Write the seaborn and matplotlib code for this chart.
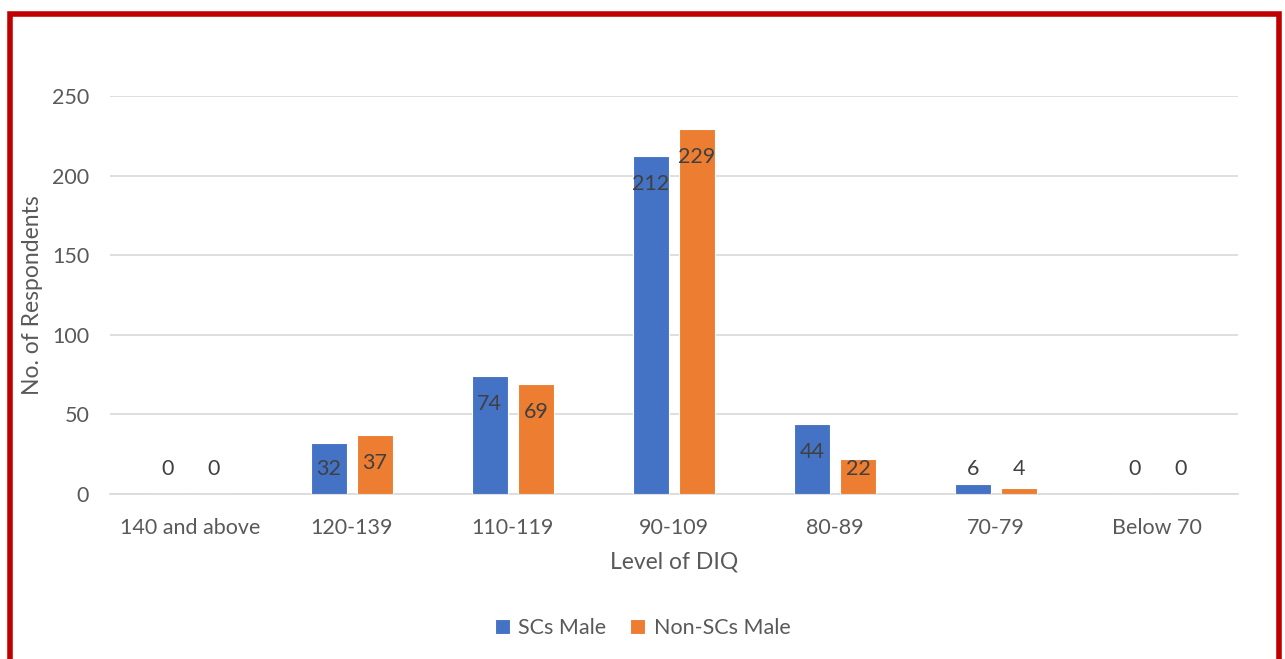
import matplotlib
matplotlib.use("Agg")
import matplotlib.pyplot as plt
import seaborn as sns
import pandas as pd
from matplotlib.patches import Rectangle

categories = ["140 and above", "120-139", "110-119", "90-109", "80-89", "70-79", "Below 70"]
sc_male = [0, 32, 74, 212, 44, 6, 0]
non_sc_male = [0, 37, 69, 229, 22, 4, 0]
series_names = ["SCs Male", "Non-SCs Male"]
colors = ["#4472C4", "#ED7D31"]

df = pd.DataFrame({
    "Level": categories * 2,
    "Count": sc_male + non_sc_male,
    "Series": [series_names[0]] * len(categories) + [series_names[1]] * len(categories),
})

sns.set_theme(style="white")
plt.rcParams["font.family"] = ["Lato", "DejaVu Sans"]

FS = 15.5
fig = plt.figure(figsize=(12.85, 6.59), dpi=100)
ax = fig.add_axes([110 / 1285, 1 - 494 / 659, (1238 - 110) / 1285, (494 - 96) / 659])

sns.barplot(data=df, x="Level", y="Count", hue="Series", order=categories,
            hue_order=series_names, palette=colors, saturation=1, width=0.572, gap=0.22,
            edgecolor="white", linewidth=0.8, ax=ax, legend=True, zorder=3)

ax.set_ylim(0, 250)
ax.set_xlim(-0.5, len(categories) - 0.5)
ax.set_yticks([0, 50, 100, 150, 200, 250])
ax.yaxis.grid(True, color="#d9d9d9", linewidth=1.2, zorder=0)
for s in ["top", "right", "left"]:
    ax.spines[s].set_visible(False)
ax.spines["bottom"].set_color("#d9d9d9")
ax.spines["bottom"].set_linewidth(1.2)
ax.tick_params(axis="both", length=0, labelsize=FS, labelcolor="#595959")
ax.tick_params(axis="y", pad=15)
ax.tick_params(axis="x", pad=17)

ax.set_xlabel("Level of DIQ", fontsize=16.5, color="#595959", labelpad=10)
ax.set_ylabel("No. of Respondents", fontsize=16.5, color="#595959")
ax.yaxis.set_label_coords(-0.059, 0.5)

# value labels at the inside end of each bar, kept above the baseline for short bars
for container in ax.containers:
    for bar in container:
        v = bar.get_height()
        xc = bar.get_x() + bar.get_width() / 2
        ax.text(xc, max(v - 17.5, 16), f"{int(round(v))}", ha="center", va="center",
                fontsize=FS, color="#404040", zorder=5)

handles, labels = ax.get_legend_handles_labels()
ax.legend(handles, labels, loc="center", bbox_to_anchor=(0.5, (659 - 628) / 659),
          bbox_transform=fig.transFigure, ncol=2, frameon=False, fontsize=FS,
          handlelength=0.7, handleheight=0.7, handletextpad=0.4, columnspacing=1.1,
          labelcolor="#595959")

# red frame around the chart
fig.patches.append(Rectangle((10 / 1285, -0.05), (1279 - 10) / 1285, 1.05 - 14 / 659,
                             transform=fig.transFigure, fill=False,
                             edgecolor="#C00000", linewidth=4, zorder=10))

fig.savefig("out.png", dpi=100, facecolor="white")
